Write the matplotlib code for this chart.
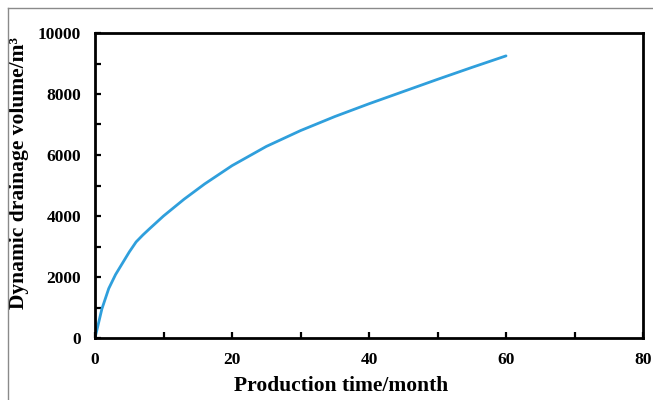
import matplotlib
matplotlib.use("Agg")
import matplotlib.pyplot as plt
from matplotlib.lines import Line2D
from matplotlib.ticker import MultipleLocator

plt.rcParams['font.family'] = ['Liberation Serif', 'DejaVu Serif']
plt.rcParams['font.weight'] = 'bold'

# production time (month) and dynamic drainage volume (m3)
month = [0, 1, 2, 3, 4, 5, 6, 7, 8, 10, 13, 16, 20, 25, 30, 35, 40, 45, 50, 55, 60]
volume = [0, 950, 1620, 2080, 2450, 2820, 3150, 3380, 3590, 4000, 4550, 5050, 5650,
          6280, 6800, 7260, 7680, 8080, 8480, 8870, 9250]

fig = plt.figure(figsize=(6.53, 4.0), dpi=100, facecolor='white')
ax = fig.add_axes([0.1455, 0.155, 0.8392, 0.7625])

ax.plot(month, volume, color='#2f9fdc', linewidth=2.0, solid_capstyle='round')

ax.set_xlim(0, 80)
ax.set_ylim(0, 10000)
ax.xaxis.set_major_locator(MultipleLocator(20))
ax.xaxis.set_minor_locator(MultipleLocator(10))
ax.yaxis.set_major_locator(MultipleLocator(2000))
ax.yaxis.set_minor_locator(MultipleLocator(1000))

for s in ax.spines.values():
    s.set_linewidth(2.0)
    s.set_color('black')

ax.tick_params(which='both', direction='in', width=1.6, labelsize=12.5, pad=10)
ax.tick_params(which='major', length=4)
ax.tick_params(which='minor', length=4)
for lab in ax.get_xticklabels() + ax.get_yticklabels():
    lab.set_fontweight('bold')

ax.set_xlabel('Production time/month', fontsize=15.5, fontweight='bold')
ax.set_ylabel('Dynamic drainage volume/m³', fontsize=15.5, fontweight='bold')
ax.xaxis.set_label_coords(0.45, -0.125)
ax.yaxis.set_label_coords(-0.12, 0.54)

# thin gray frame around the picture (top and left edges visible)
fig.add_artist(Line2D([8/653, 1.0], [1 - 8/400, 1 - 8/400], transform=fig.transFigure,
                      color='#8a8a8a', linewidth=1.0))
fig.add_artist(Line2D([8/653, 8/653], [0.0, 1 - 8/400], transform=fig.transFigure,
                      color='#8a8a8a', linewidth=1.0))

fig.savefig('out.png', dpi=100)
